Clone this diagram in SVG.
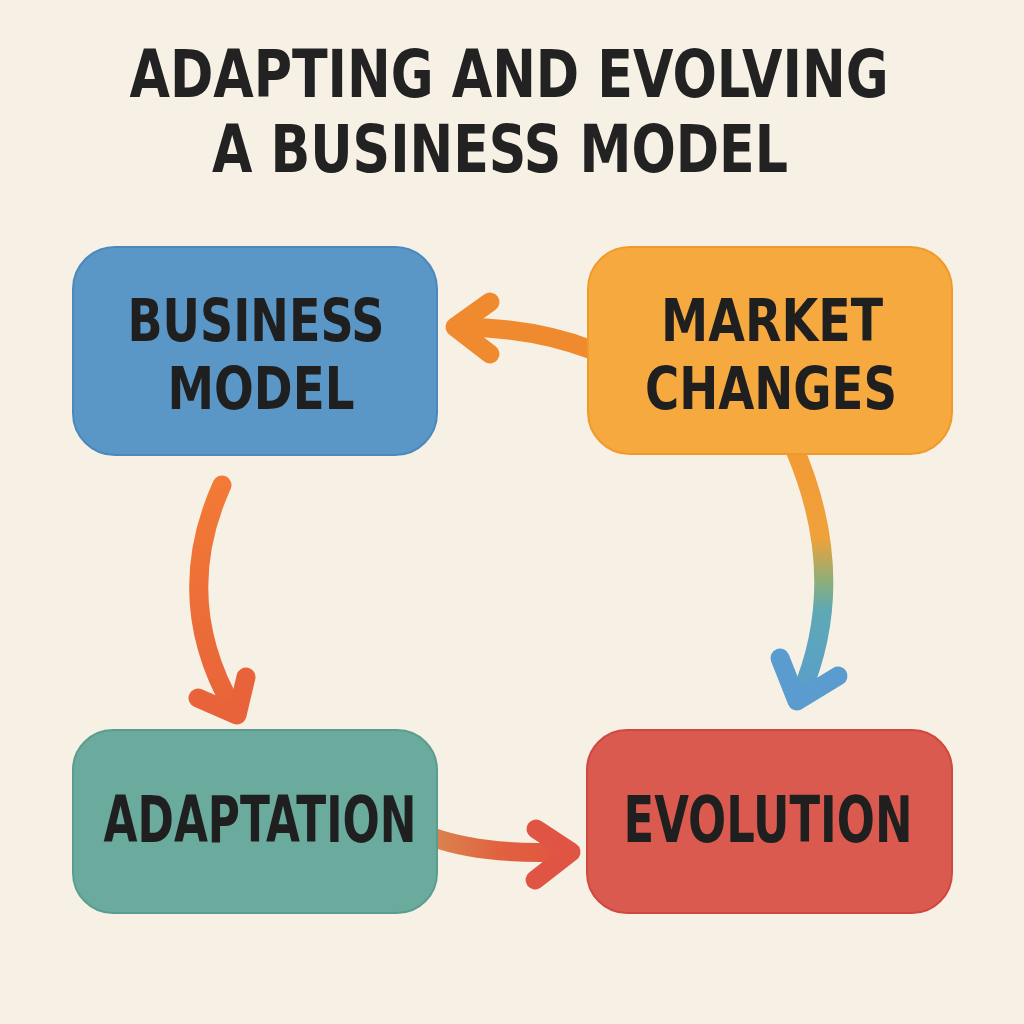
<svg xmlns="http://www.w3.org/2000/svg" width="1024" height="1024" viewBox="0 0 1024 1024">
  <style>
    .title { font-family: "DejaVu Sans Condensed", "DejaVu Sans", "Liberation Sans", sans-serif; font-weight: bold; font-size: 66px; fill: #222222; text-anchor: middle; }
    .label { font-family: "DejaVu Sans Condensed", "DejaVu Sans", "Liberation Sans", sans-serif; font-weight: bold; font-size: 64px; fill: #1f1f1f; text-anchor: middle; }
    .label2 { font-family: "DejaVu Sans Condensed", "DejaVu Sans", "Liberation Sans", sans-serif; font-weight: bold; font-size: 58px; fill: #1f1f1f; text-anchor: middle; }
    .conn { fill: none; stroke-width: 19; stroke-linecap: round; stroke-linejoin: round; }
    .box { stroke-width: 2; }
  </style>
  <defs>
    <linearGradient id="gDown" gradientUnits="userSpaceOnUse" x1="0" y1="455" x2="0" y2="705">
      <stop offset="0" stop-color="#f39a35"/>
      <stop offset="0.33" stop-color="#efa23a"/>
      <stop offset="0.5" stop-color="#8fae78"/>
      <stop offset="0.62" stop-color="#5ea9b4"/>
      <stop offset="1" stop-color="#5a9ccf"/>
    </linearGradient>
    <linearGradient id="gLeft" gradientUnits="userSpaceOnUse" x1="0" y1="485" x2="0" y2="720">
      <stop offset="0" stop-color="#f27a36"/>
      <stop offset="1" stop-color="#e8633a"/>
    </linearGradient>
    <linearGradient id="gBottom" gradientUnits="userSpaceOnUse" x1="437" y1="0" x2="575" y2="0">
      <stop offset="0" stop-color="#d9834e"/>
      <stop offset="0.45" stop-color="#e2613f"/>
      <stop offset="1" stop-color="#df5443"/>
    </linearGradient>
  </defs>

  <rect x="0" y="0" width="1024" height="1024" fill="#f6f0e5"/>

  <g id="title">
    <text class="title" x="509" y="97" textLength="759" lengthAdjust="spacingAndGlyphs">ADAPTING AND EVOLVING</text>
    <text class="title" x="500" y="172" textLength="576" lengthAdjust="spacingAndGlyphs">A BUSINESS MODEL</text>
  </g>

  <g id="connectors">
    <g id="market-to-business">
      <path class="conn" stroke="#f08a2e" d="M 592 350 Q 535 328 462 327"/>
      <path class="conn" stroke="#f08a2e" d="M 490 302 L 455 327 L 490 354"/>
    </g>
    <g id="business-to-adaptation">
      <path class="conn" stroke="url(#gLeft)" d="M 222 485 Q 170 600 234 710"/>
      <path class="conn" stroke="#e8633a" d="M 198 698 L 237 715 L 246 677"/>
    </g>
    <g id="market-to-evolution">
      <path class="conn" stroke="url(#gDown)" d="M 795 450 Q 850 580 800 696"/>
      <path class="conn" stroke="#5a9ccf" d="M 780 658 L 797 701 L 838 676"/>
    </g>
    <g id="adaptation-to-evolution">
      <path class="conn" stroke="url(#gBottom)" d="M 432 837 Q 482 855 562 852"/>
      <path class="conn" stroke="#df5443" d="M 536 829 L 571 852 L 535 880"/>
    </g>
  </g>

  <g id="node-business-model">
    <rect class="box" x="73" y="247" width="364" height="208" rx="42" fill="#5b97c6" stroke="#4a88bd"/>
    <text class="label2"><tspan x="256" y="341" textLength="257" lengthAdjust="spacingAndGlyphs">BUSINESS</tspan><tspan x="261" y="409" textLength="187" lengthAdjust="spacingAndGlyphs">MODEL</tspan></text>
  </g>

  <g id="node-market-changes">
    <rect class="box" x="588" y="247" width="364" height="207" rx="42" fill="#f5a93f" stroke="#f09a2c"/>
    <text class="label2"><tspan x="772" y="341" textLength="222" lengthAdjust="spacingAndGlyphs">MARKET</tspan><tspan x="771" y="409" textLength="252" lengthAdjust="spacingAndGlyphs">CHANGES</tspan></text>
  </g>

  <g id="node-adaptation">
    <rect class="box" x="73" y="730" width="364" height="183" rx="40" fill="#6aab9e" stroke="#5a9d90"/>
    <text class="label" x="260" y="842" textLength="313" lengthAdjust="spacingAndGlyphs">ADAPTATION</text>
  </g>

  <g id="node-evolution">
    <rect class="box" x="587" y="730" width="365" height="183" rx="40" fill="#db5a4f" stroke="#d04840"/>
    <text class="label" x="768" y="842" textLength="289" lengthAdjust="spacingAndGlyphs">EVOLUTION</text>
  </g>
</svg>
